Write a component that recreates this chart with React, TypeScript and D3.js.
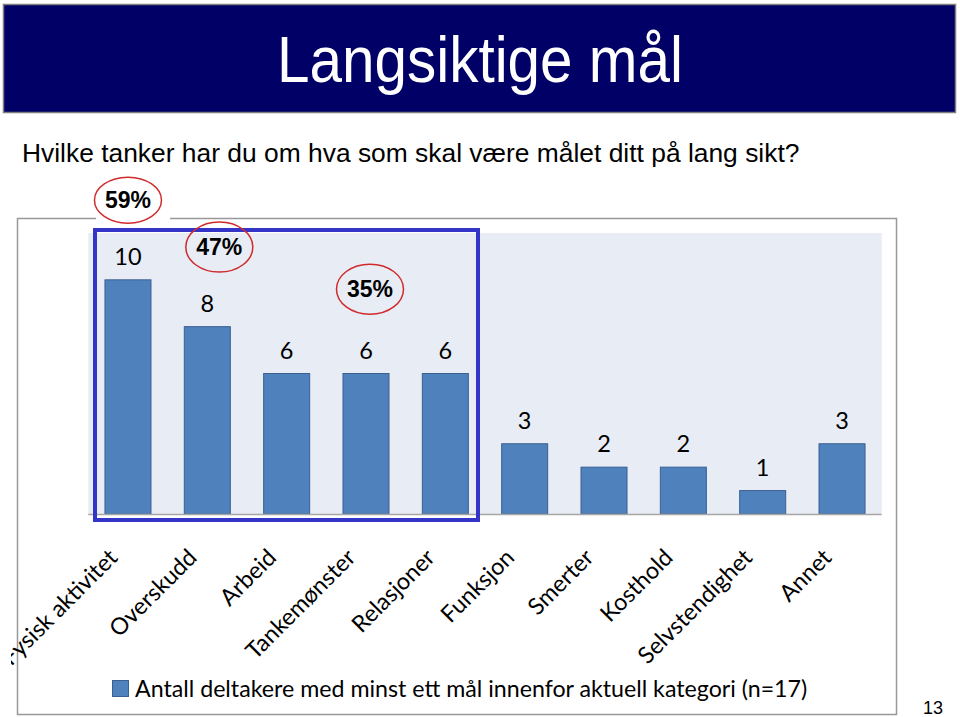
import React from "react";
import * as d3 from "d3";

const categories = ["Fysisk aktivitet", "Overskudd", "Arbeid", "Tankemønster", "Relasjoner", "Funksjon", "Smerter", "Kosthold", "Selvstendighet", "Annet"];
const values = [10, 8, 6, 6, 6, 3, 2, 2, 1, 3];
const percentLabels = ["59%", "47%", "35%"];
const legendLabel = "Antall deltakere med minst ett mål innenfor aktuell kategori (n=17)";
const titleText = "Langsiktige mål";
const subtitleText = "Hvilke tanker har du om hva som skal være målet ditt på lang sikt?";

const W = 960, H = 717;
const plot = { left: 88.3, right: 881.7, top: 233, bottom: 514 };
const bodyFont = "Lato, 'Open Sans', sans-serif";
const arial = "'Liberation Sans', Arial, sans-serif";

export default function App() {
  const x = d3.scaleBand<string>().domain(categories).range([plot.left, plot.right]).paddingInner(0.42).paddingOuter(0.21);
  const y = d3.scaleLinear().domain([0, 12]).range([plot.bottom, plot.top]);
  const cx = (i: number) => (x(categories[i]) as number) + x.bandwidth() / 2;

  // annotation ellipses (positions relative to bars)
  const ann = [
    { label: percentLabels[0], x: cx(0), y: y(13.4) },
    { label: percentLabels[1], x: cx(1) + 12, y: y(11.4) },
    { label: percentLabels[2], x: cx(3) + 4, y: y(9.6) },
  ];

  return (
    <svg width={W} height={H} style={{ position: "absolute", left: 0, top: 0, background: "#fff" }}>
      <defs>
        <clipPath id="clipLabels">
          <rect x={11} y={0} width={W} height={H} />
        </clipPath>
      </defs>
      {/* title bar */}
      <rect x={3.5} y={4.5} width={952} height={108} fill="#000066" stroke="#7f7f7f" strokeWidth={1.5} />
      <text x={480} y={82} textAnchor="middle" fill="#fff" fontFamily={arial} fontSize={64} textLength={406} lengthAdjust="spacingAndGlyphs">{titleText}</text>
      <text x={22} y={162} fill="#000" fontFamily={arial} fontSize={26.4}>{subtitleText}</text>

      {/* chart outer frame */}
      <rect x={17.5} y={218.5} width={879} height={496} fill="none" stroke="#999" strokeWidth={1.5} />
      <rect x={plot.left} y={plot.top} width={plot.right - plot.left} height={plot.bottom - plot.top} fill="#e8ecf5" />

      {/* bars */}
      {values.map((v, i) => (
        <rect key={categories[i]} x={x(categories[i])} y={y(v)} width={x.bandwidth()} height={y(0) - y(v)} fill="#4f81bd" stroke="#3b5f91" strokeWidth={1} />
      ))}
      <line x1={plot.left} x2={plot.right} y1={plot.bottom + 0.5} y2={plot.bottom + 0.5} stroke="#a6a6a6" strokeWidth={1.5} />

      {/* value labels */}
      {values.map((v, i) => (
        <text key={"v" + i} x={cx(i)} y={y(v) - 15} textAnchor="middle" fontFamily={bodyFont} fontSize={23.5} fill="#000">{v}</text>
      ))}

      {/* category labels */}
      <g clipPath="url(#clipLabels)">
        {categories.map((c, i) => (
          <text key={"c" + i} transform={`translate(${cx(i) - 9},${559}) rotate(-45)`} textAnchor="end" fontFamily={bodyFont} fontSize={23.3} fill="#000">{c}</text>
        ))}
      </g>

      {/* highlight box */}
      <rect x={95} y={230} width={383} height={290} fill="none" stroke="#3434c8" strokeWidth={4} />

      {/* percent annotations */}
      <rect x={96} y={213} width={74} height={10} fill="#fff" />
      {ann.map((a, i) => (
        <g key={"a" + i}>
          <ellipse cx={a.x} cy={a.y} rx={33.5} ry={i === 0 ? 23 : 25} fill={i === 0 ? "#fff" : "none"} stroke="#d02a2a" strokeWidth={1.5} />
          <text x={a.x} y={a.y + 8} textAnchor="middle" fontFamily={arial} fontWeight="bold" fontSize={23} fill="#000">{a.label}</text>
        </g>
      ))}

      {/* legend */}
      <rect x={112.5} y={680.5} width={16} height={16} fill="#4f81bd" stroke="#3b5f91" strokeWidth={1} />
      <text x={135} y={697} fontFamily={bodyFont} fontSize={23.2} fill="#000">{legendLabel}</text>

      {/* page number */}
      <text x={933} y={714} textAnchor="middle" fontFamily={arial} fontSize={18} fill="#000">13</text>
    </svg>
  );
}
